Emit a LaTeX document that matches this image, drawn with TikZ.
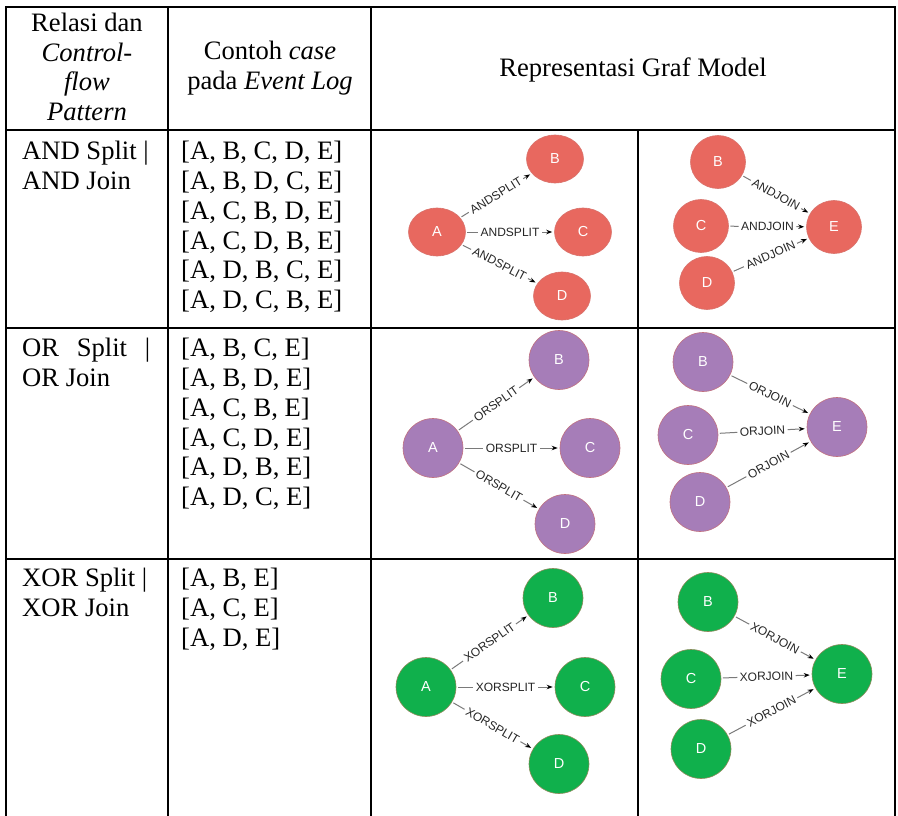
\documentclass[tikz,border=0pt]{standalone}
\usepackage{fontspec}
\setmainfont{Liberation Serif}
\newfontfamily\graphsans{Liberation Sans}
\usetikzlibrary{shapes.geometric,arrows.meta}

\definecolor{nodeRed}{HTML}{E8685F}
\definecolor{nodeRedEdge}{HTML}{D9736C}
\definecolor{nodePurple}{HTML}{A67DB8}
\definecolor{nodePurpleEdge}{HTML}{C0707F}
\definecolor{nodeGreen}{HTML}{10B04C}
\definecolor{nodeGreenEdge}{HTML}{8C8A5A}
\definecolor{edgeGray}{HTML}{7A7A7A}
\definecolor{labelGray}{HTML}{262626}

\newcommand\cellfont{\fontsize{26.6}{29.8}\selectfont}
\newcommand\vtxfont{\graphsans\fontsize{14.5}{16}\selectfont}
\newcommand\elabfont{\graphsans\fontsize{12}{14}\selectfont}

\tikzset{
  grid/.style={line width=1.8pt, line cap=rect},
  cell/.style={inner sep=0pt, font=\cellfont, align=left, anchor=north west},
  head/.style={inner sep=0pt, font=\cellfont, align=center, anchor=center},
  vtx/.style={ellipse, inner sep=0pt, text=white, font=\vtxfont, line width=0.6pt},
  redsplit/.style={vtx, fill=nodeRed, draw=nodeRedEdge, minimum width=57pt, minimum height=48pt},
  redjoin/.style={vtx, fill=nodeRed, draw=nodeRedEdge, minimum width=55pt, minimum height=53pt},
  purplev/.style={vtx, fill=nodePurple, draw=nodePurpleEdge, minimum width=60pt, minimum height=59pt},
  greenv/.style={vtx, fill=nodeGreen, draw=nodeGreenEdge, minimum width=60pt, minimum height=59pt},
  rel/.style={draw=edgeGray, line width=1pt, shorten <=1.5pt, shorten >=2pt,
    -{Stealth[length=6pt,width=4.5pt,color=black]}},
  elab/.style={sloped, fill=white, inner xsep=2.5pt, inner ysep=1pt, font=\elabfont, text=labelGray}
}

\begin{document}
\begin{tikzpicture}[x=1pt,y=-1pt]
\useasboundingbox (0,0) rectangle (898,816);

% table rules
\draw[grid] (6,7) -- (895,7);
\draw[grid] (6,130) -- (895,130);
\draw[grid] (6,328) -- (895,328);
\draw[grid] (6,559) -- (895,559);
\draw[grid] (6,7) -- (6,816);
\draw[grid] (168,7) -- (168,816);
\draw[grid] (371,7) -- (371,816);
\draw[grid] (638,130) -- (638,816);
\draw[grid] (895,7) -- (895,816);

% header
\node[head] (hrel) at (87,67) {Relasi dan\\\textit{Control-}\\\textit{flow}\\\textit{Pattern}};
\node[head] (hcase) at (270,68) {Contoh \textit{case}\\pada \textit{Event Log}};
\node[head] (hgraf) at (633,70) {Representasi Graf Model};

% row texts
\node[cell] (r1a) at (22,141) {AND Split |\\AND Join};
\node[cell] (r1b) at (181,141) {{[A, B, C, D, E]}\\{[A, B, D, C, E]}\\{[A, C, B, D, E]}\\{[A, C, D, B, E]}\\{[A, D, B, C, E]}\\{[A, D, C, B, E]}};
\node[cell] (r2a) at (22,338) {\hbox to 128pt{OR\hfill Split\hfill |}\\OR Join};
\node[cell] (r2b) at (181,338) {{[A, B, C, E]}\\{[A, B, D, E]}\\{[A, C, B, E]}\\{[A, C, D, E]}\\{[A, D, B, E]}\\{[A, D, C, E]}};
\node[cell] (r3a) at (22,568) {XOR Split |\\XOR Join};
\node[cell] (r3b) at (181,568) {{[A, B, E]}\\{[A, C, E]}\\{[A, D, E]}};

% AND split
\node[redsplit] (as) at (437,232) {A};
\node[redsplit] (bs) at (555,159) {B};
\node[redsplit] (cs) at (583,232) {C};
\node[redsplit] (ds) at (562,296) {D};
\draw[rel] (as) -- node[elab] {ANDSPLIT} (bs);
\draw[rel] (as) -- node[elab] {ANDSPLIT} (cs);
\draw[rel] (as) -- node[elab] {ANDSPLIT} (ds);

% AND join
\node[redjoin] (bj) at (718,162) {B};
\node[redjoin] (cj) at (701,226) {C};
\node[redjoin] (dj) at (707,283) {D};
\node[redjoin] (ej) at (834,227) {E};
\draw[rel] (bj) -- node[elab] {ANDJOIN} (ej);
\draw[rel] (cj) -- node[elab] {ANDJOIN} (ej);
\draw[rel] (dj) -- node[elab] {ANDJOIN} (ej);

% OR split
\node[purplev] (aos) at (433,448) {A};
\node[purplev] (bos) at (559,360) {B};
\node[purplev] (cos) at (590,448) {C};
\node[purplev] (dos) at (565,524) {D};
\draw[rel] (aos) -- node[elab] {ORSPLIT} (bos);
\draw[rel] (aos) -- node[elab] {ORSPLIT} (cos);
\draw[rel] (aos) -- node[elab] {ORSPLIT} (dos);

% OR join
\node[purplev] (boj) at (703,362) {B};
\node[purplev] (coj) at (688,435) {C};
\node[purplev] (doj) at (700,502) {D};
\node[purplev] (eoj) at (837,427) {E};
\draw[rel] (boj) -- node[elab] {ORJOIN} (eoj);
\draw[rel] (coj) -- node[elab] {ORJOIN} (eoj);
\draw[rel] (doj) -- node[elab] {ORJOIN} (eoj);

% XOR split
\node[greenv] (axs) at (426,687) {A};
\node[greenv] (bxs) at (553,598) {B};
\node[greenv] (cxs) at (585,687) {C};
\node[greenv] (dxs) at (559,764) {D};
\draw[rel] (axs) -- node[elab] {XORSPLIT} (bxs);
\draw[rel] (axs) -- node[elab] {XORSPLIT} (cxs);
\draw[rel] (axs) -- node[elab] {XORSPLIT} (dxs);

% XOR join
\node[greenv] (bxj) at (708,602) {B};
\node[greenv] (cxj) at (691,679) {C};
\node[greenv] (dxj) at (701,749) {D};
\node[greenv] (exj) at (842,674) {E};
\draw[rel] (bxj) -- node[elab] {XORJOIN} (exj);
\draw[rel] (cxj) -- node[elab] {XORJOIN} (exj);
\draw[rel] (dxj) -- node[elab] {XORJOIN} (exj);
\end{tikzpicture}
\end{document}
